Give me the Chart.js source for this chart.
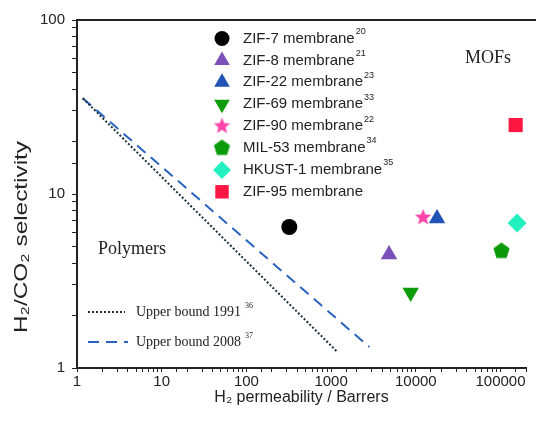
<!DOCTYPE html>
<html>
<head>
<meta charset="utf-8">
<script src="https://cdn.jsdelivr.net/npm/chart.js@4.4.0/dist/chart.umd.min.js"></script>
<style>
html, body { margin: 0; padding: 0; background: #fff; }
</style>
</head>
<body>
<canvas id="chart" width="536" height="423"></canvas>
<script>
// values
const materials = ['ZIF-7 membrane', 'ZIF-8 membrane', 'ZIF-22 membrane', 'ZIF-69 membrane',
                   'ZIF-90 membrane', 'MIL-53 membrane', 'HKUST-1 membrane', 'ZIF-95 membrane'];
const refs = ['20', '21', '23', '33', '22', '34', '35', ''];
const permeability = [321, 4830, 17800, 8700, 12200, 102700, 157000, 151000];
const selectivity = [6.46, 4.49, 7.23, 2.72, 7.33, 4.70, 6.81, 24.9];

const bound1991P = [1.17, 1180];
const bound1991S = [35.5, 1.24];
const bound2008P = [1.17, 2830];
const bound2008S = [35.5, 1.32];

const xTickLabels = [1, 10, 100, 1000, 10000, 100000];
const yTickLabels = [1, 10, 100];

const SANS = '"Liberation Sans", Arial, sans-serif';
const SERIF = '"Liberation Serif", "Times New Roman", serif';
const INK = '#222';

function shapeCanvas(kind, color, r) {
    const s = Math.ceil(r * 2 + 2);
    const cv = document.createElement('canvas');
    cv.width = s; cv.height = s;
    const c = cv.getContext('2d');
    c.fillStyle = color;
    c.beginPath();
    const n = kind === 'star' ? 10 : 5;
    for (let i = 0; i < n; i++) {
        const a = -Math.PI / 2 + i * 2 * Math.PI / n;
        const rr = (kind === 'star' && i % 2) ? r * 0.45 : r;
        const px = s / 2 + rr * Math.cos(a), py = s / 2 + rr * Math.sin(a);
        if (i) c.lineTo(px, py); else c.moveTo(px, py);
    }
    c.closePath();
    c.fill();
    return cv;
}

const colors = ['#000000', '#7b50b8', '#2152b5', '#0c9c0c', '#ff44aa', '#0a9a0a', '#22f0c0', '#ff1744'];
const styles = ['circle', 'triangle', 'triangle', 'triangle',
                shapeCanvas('star', colors[4], 8.5), shapeCanvas('pentagon', colors[5], 8.5), 'rectRot', 'rect'];
const radii = [8, 9.5, 9.5, 9.5, 8, 8, 9.5, 10];
const rotations = [0, 0, 0, 180, 0, 0, 0, 0];

const pointSets = materials.map((name, i) => ({
    label: name,
    data: [{x: permeability[i], y: selectivity[i]}],
    backgroundColor: colors[i],
    borderColor: colors[i],
    borderWidth: 0,
    pointStyle: styles[i],
    pointRadius: radii[i],
    pointRotation: rotations[i]
}));

const lineSets = [
    {label: 'Upper bound 1991', data: bound1991P.map((x, i) => ({x: x, y: bound1991S[i]})),
     borderColor: '#1a3038', borderWidth: 2, borderDash: [2, 2], showLine: true, pointRadius: 0},
    {label: 'Upper bound 2008', data: bound2008P.map((x, i) => ({x: x, y: bound2008S[i]})),
     borderColor: '#2a62c0', borderWidth: 2, borderDash: [11, 7], showLine: true, pointRadius: 0}
];

function textSup(ctx, x, y, main, sup, font, supFont, dx, dy) {
    ctx.font = font;
    ctx.fillText(main, x, y);
    if (!sup) return;
    const w = ctx.measureText(main).width;
    ctx.font = supFont;
    ctx.fillText(sup, x + w + dx, y - dy);
}

const decor = {
    id: 'decor',
    afterDraw(chart) {
        const ctx = chart.ctx;
        const area = chart.chartArea;
        ctx.save();

        // top frame line
        ctx.strokeStyle = INK;
        ctx.lineWidth = 2;
        ctx.beginPath();
        ctx.moveTo(area.left, area.top);
        ctx.lineTo(536, area.top);
        ctx.stroke();

        ctx.fillStyle = INK;
        ctx.textBaseline = 'middle';

        // y title, stretched along its length to match the picture
        ctx.save();
        ctx.translate(22, 237);
        ctx.rotate(-Math.PI / 2);
        ctx.font = '18px ' + SANS;
        const yt = 'H\u2082/CO\u2082 selectivity';
        ctx.scale(192 / ctx.measureText(yt).width, 1);
        ctx.textAlign = 'center';
        ctx.fillText(yt, 0, 0);
        ctx.restore();

        // region labels
        ctx.textAlign = 'left';
        ctx.font = '18px ' + SERIF;
        ctx.fillText('Polymers', 98, 249);
        ctx.fillText('MOFs', 465, 58);

        // marker legend
        materials.forEach((name, i) => {
            const y = 38.5 + i * 21.9;
            ctx.fillStyle = colors[i];
            Chart.helpers.drawPoint(ctx, {pointStyle: styles[i], radius: radii[i] - 0.5,
                                          rotation: rotations[i], borderWidth: 0}, 222, y);
            ctx.fillStyle = INK;
            textSup(ctx, 243, y, name, refs[i], '15px ' + SANS, '9px ' + SANS, 1, 7);
        });

        // line legend
        ctx.lineWidth = 2;
        ctx.strokeStyle = lineSets[0].borderColor;
        ctx.setLineDash(lineSets[0].borderDash);
        ctx.beginPath(); ctx.moveTo(88, 312); ctx.lineTo(125, 312); ctx.stroke();
        ctx.strokeStyle = lineSets[1].borderColor;
        ctx.setLineDash(lineSets[1].borderDash);
        ctx.beginPath(); ctx.moveTo(88, 342); ctx.lineTo(128, 342); ctx.stroke();
        ctx.setLineDash([]);
        ctx.fillStyle = INK;
        textSup(ctx, 136, 312, 'Upper bound 1991', '36', '14px ' + SERIF, '8px ' + SERIF, 4, 6);
        textSup(ctx, 136, 342, 'Upper bound 2008', '37', '14px ' + SERIF, '8px ' + SERIF, 4, 6);

        ctx.restore();
    }
};

function decadeLabel(list) {
    return v => list.includes(v) ? String(v) : '';
}

new Chart(document.getElementById('chart'), {
    type: 'scatter',
    data: {datasets: pointSets.concat(lineSets)},
    options: {
        responsive: false,
        animation: false,
        events: [],
        layout: {padding: {top: 20, right: 1, left: 0, bottom: 0}},
        plugins: {legend: {display: false}, tooltip: {enabled: false}},
        scales: {
            x: {
                type: 'logarithmic',
                min: 1,
                max: 200000,
                afterFit(scale) { scale.height = 55; },
                border: {display: true, color: INK, width: 2},
                grid: {drawOnChartArea: false, drawTicks: true, tickLength: 4, tickColor: INK},
                ticks: {autoSkip: false, maxRotation: 0, padding: 1, color: INK,
                        font: {family: SANS, size: 15}, callback: decadeLabel(xTickLabels)},
                title: {display: true, text: 'H\u2082 permeability / Barrers', color: INK,
                        font: {family: SANS, size: 16}, padding: {top: 0, bottom: 16}}
            },
            y: {
                type: 'logarithmic',
                min: 1,
                max: 100,
                afterFit(scale) { scale.width = 77; },
                border: {display: true, color: INK, width: 2},
                grid: {drawOnChartArea: false, drawTicks: true, tickLength: 5, tickColor: INK},
                ticks: {autoSkip: false, padding: 7, color: INK,
                        font: {family: SANS, size: 15}, callback: decadeLabel(yTickLabels)}
            }
        }
    },
    plugins: [decor]
});
</script>
</body>
</html>
